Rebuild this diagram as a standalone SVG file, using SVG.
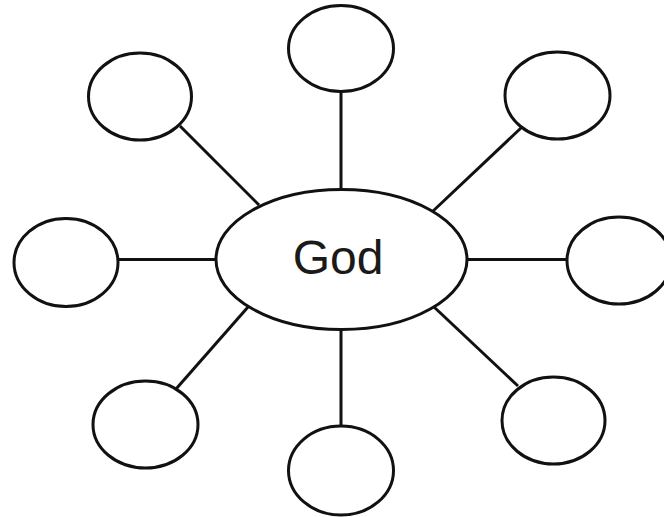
<svg xmlns="http://www.w3.org/2000/svg" width="664" height="517" viewBox="0 0 664 517">
<style>
.n{fill:#fff;stroke:#111;stroke-width:3}
.c line{stroke:#111;stroke-width:3}
.t{font-family:"Liberation Sans",Arial,sans-serif;font-size:48px;fill:#1a1a1a;text-anchor:middle}
</style>
<rect width="664" height="517" fill="#fff"/>
<g class="c" id="connectors">
<line x1="341" y1="92" x2="341" y2="189"/>
<line x1="180" y1="126" x2="259" y2="205"/>
<line x1="522" y1="127" x2="432" y2="212"/>
<line x1="118" y1="259.5" x2="216" y2="259.5"/>
<line x1="467" y1="259.5" x2="567" y2="259.5"/>
<line x1="176" y1="389" x2="248" y2="307"/>
<line x1="518" y1="386" x2="434" y2="307"/>
<line x1="341" y1="330" x2="341" y2="426"/>
</g>
<g id="god"><ellipse class="n" cx="341.5" cy="259.5" rx="125.5" ry="70"/><text class="t" x="338" y="274">God</text></g>
<g id="n-top"><ellipse class="n" cx="341" cy="48.5" rx="52.5" ry="43"/></g>
<g id="n-topleft"><ellipse class="n" cx="140" cy="96.5" rx="51.5" ry="43.5"/></g>
<g id="n-topright"><ellipse class="n" cx="557.5" cy="95.5" rx="52.5" ry="43.5"/></g>
<g id="n-left"><ellipse class="n" cx="66" cy="262.5" rx="52" ry="44"/></g>
<g id="n-right"><ellipse class="n" cx="619" cy="260.5" rx="52" ry="43.5"/></g>
<g id="n-bottomleft"><ellipse class="n" cx="145.5" cy="424.5" rx="52.5" ry="43.5"/></g>
<g id="n-bottomright"><ellipse class="n" cx="553.5" cy="420.5" rx="51.5" ry="43.5"/></g>
<g id="n-bottom"><ellipse class="n" cx="341" cy="470.5" rx="52.5" ry="44.5"/></g>
</svg>
